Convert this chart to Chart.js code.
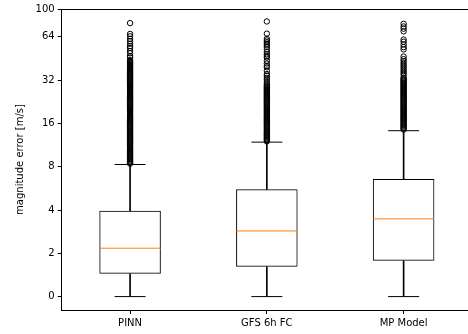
<!DOCTYPE html>
<html>
<head>
<meta charset="utf-8">
<script src="https://cdn.jsdelivr.net/npm/chart.js@4"></script>
<style>
  html, body { margin: 0; padding: 0; background: #fff; overflow: hidden; }
  #wrap { width: 468px; height: 334px; overflow: hidden; position: relative; }
  #chart { position: absolute; left: 0; top: 0; }
</style>
</head>
<body>
<div id="wrap"><canvas id="chart" width="480" height="334"></canvas></div>
<script>
// box statistics (m/s)
const models = ['PINN', 'GFS 6h FC', 'MP Model'];
const whiskLow = [0, 0, 0];
const q1 = [1.05, 1.38, 1.65];
const median = [2.17, 2.86, 3.47];
const q3 = [3.96, 5.57, 6.58];
const whiskHigh = [8.29, 11.86, 14.24];

// outliers (dense columns above the whiskers)
const fliersPINN = [8.4, 8.55, 8.7, 8.85, 9.0, 9.15, 9.3, 9.45, 9.6, 9.75, 9.9, 10.05, 10.2, 10.35, 10.5,
  10.65, 10.8, 11.0, 11.2, 11.4, 11.6, 11.8, 12.0, 12.2, 12.4, 12.6, 12.8, 13.0, 13.2, 13.4, 13.6, 13.8,
  14.0, 14.25, 14.5, 14.75, 15.0, 15.25, 15.5, 15.75, 16.0, 16.25, 16.5, 16.75, 17.0, 17.25, 17.5, 17.75,
  18.0, 18.3, 18.6, 18.9, 19.2, 19.5, 19.8, 20.1, 20.4, 20.7, 21.0, 21.35, 21.7, 22.05, 22.4, 22.75, 23.1,
  23.45, 23.8, 24.15, 24.5, 24.9, 25.3, 25.7, 26.1, 26.5, 26.9, 27.3, 27.7, 28.15, 28.6, 29.05, 29.5, 29.95,
  30.4, 30.85, 31.3, 31.8, 32.3, 32.8, 33.3, 33.85, 34.4, 34.95, 35.5, 36.05, 36.6, 37.2, 37.8, 38.4, 39.0,
  39.6, 40.2, 40.85, 41.5, 42.15, 42.8, 43.45, 44.1,
  46.0, 47.1, 49.2, 51.0, 53.6, 55.2, 57.3, 59.7, 62.0, 64.6, 67.1, 79.8];
const fliersGFS = [12.0, 12.2, 12.4, 12.6, 12.8, 13.0, 13.2, 13.4, 13.6, 13.8, 14.0, 14.25, 14.5, 14.75,
  15.0, 15.25, 15.5, 15.75, 16.0, 16.25, 16.5, 16.75, 17.0, 17.25, 17.5, 17.75, 18.0, 18.3, 18.6, 18.9,
  19.2, 19.5, 19.8, 20.1, 20.4, 20.7, 21.0, 21.35, 21.7, 22.05, 22.4, 22.75, 23.1, 23.45, 23.8, 24.15,
  24.5, 24.9, 25.3, 25.7, 26.1, 26.5, 26.9, 27.3, 27.7, 28.15, 28.6, 29.05, 29.5,
  30.2, 31.1, 32.2, 33.2, 34.3, 35.3, 37.2, 39.3, 40.3, 41.8, 43.6, 46.0, 47.1, 48.4, 50.2, 52.4, 54.3,
  55.8, 57.3, 58.8, 60.4, 62.0, 67.4, 81.9];
const fliersMP = [14.5, 14.75, 15.0, 15.25, 15.5, 15.75, 16.0, 16.25, 16.5, 16.75, 17.0, 17.25, 17.5,
  17.75, 18.0, 18.3, 18.6, 18.9, 19.2, 19.5, 19.8, 20.1, 20.4, 20.7, 21.0, 21.35, 21.7, 22.05, 22.4, 22.75,
  23.1, 23.45, 23.8, 24.15, 24.5, 24.9, 25.3, 25.7, 26.1, 26.5, 26.9, 27.3, 27.7, 28.15, 28.6, 29.05, 29.5,
  29.95, 30.4, 30.85, 31.3, 31.8, 32.3, 32.8, 33.3,
  34.8, 35.9, 37.0, 38.2, 39.5, 40.7, 42.0, 43.4, 44.8, 46.7, 52.4, 54.3, 56.7, 59.2, 61.3, 69.9, 73.0,
  75.6, 78.9];

const yTicks = [0, 2, 4, 8, 16, 32, 64, 100];
const yMin = -0.62, yMax = 100;

// symlog, base 2, linear below 2
const symlog = v => v >= 2 ? Math.log2(v) : v / 2;

const font = { family: 'DejaVu Sans', size: 10 };
const fliers = [fliersPINN, fliersGFS, fliersMP];
const flierPts = [];
fliers.forEach((arr, i) => arr.forEach(v => flierPts.push({ x: models[i], y: symlog(v) })));

const ctx = document.getElementById('chart').getContext('2d');
const chart = new Chart(ctx, {
  type: 'bar',
  data: {
    labels: models,
    datasets: [
      { type: 'line', data: flierPts, showLine: false, pointStyle: 'circle', pointRadius: 2.7,
        pointBorderWidth: 1, pointBorderColor: '#000', pointBackgroundColor: 'rgba(0,0,0,0)' },
      { type: 'line', data: median.map(symlog), showLine: false, pointStyle: 'line', pointRadius: 30.5,
        pointBorderWidth: 1, pointBorderColor: '#ff7f0e' },
      { type: 'line', data: whiskHigh.map(symlog), showLine: false, pointStyle: 'line', pointRadius: 15.5,
        pointBorderWidth: 1, pointBorderColor: '#000' },
      { type: 'line', data: whiskLow.map(symlog), showLine: false, pointStyle: 'line', pointRadius: 15.5,
        pointBorderWidth: 1, pointBorderColor: '#000' },
      { data: models.map((m, i) => [symlog(q1[i]), symlog(q3[i])]), backgroundColor: 'rgba(0,0,0,0)',
        borderColor: '#000', borderWidth: 1, borderSkipped: false, barPercentage: 0.45,
        categoryPercentage: 1, grouped: false },
      { data: models.map((m, i) => [symlog(q3[i]), symlog(whiskHigh[i])]), backgroundColor: '#000',
        borderWidth: 0, barThickness: 1, grouped: false },
      { data: models.map((m, i) => [symlog(whiskLow[i]), symlog(q1[i])]), backgroundColor: '#000',
        borderWidth: 0, barThickness: 1, grouped: false }
    ]
  },
  options: {
    responsive: false,
    animation: false,
    devicePixelRatio: 1,
    layout: { padding: { right: 8 }, autoPadding: false },
    plugins: { legend: { display: false }, tooltip: { enabled: false } },
    scales: {
      x: {
        grid: { display: true, drawOnChartArea: false, offset: false, color: '#000', tickLength: 4 },
        border: { display: true, color: '#000', width: 1 },
        ticks: { color: '#000', font: font, padding: 3, maxRotation: 0, autoSkip: false },
        afterFit: s => { s.height = 24; }
      },
      xTop: {
        type: 'category', position: 'top', labels: models,
        grid: { display: false }, ticks: { display: false },
        border: { display: true, color: '#000', width: 1 },
        afterFit: s => { s.height = 4.7; }
      },
      y: {
        min: symlog(yMin), max: symlog(yMax),
        grid: { display: true, drawOnChartArea: false, color: '#000', tickLength: 4 },
        border: { display: true, color: '#000', width: 1 },
        ticks: { color: '#000', font: font, padding: 3, autoSkip: false, callback: (v, i) => yTicks[i] },
        afterBuildTicks: s => { s.ticks = yTicks.map(v => ({ value: symlog(v) })); },
        afterFit: s => { s.width = 61.7; },
        title: { display: true, text: 'magnitude error [m/s]', color: '#000', font: font,
          padding: { top: 14, bottom: 0 } }
      }
    }
  }
});
</script>
</body>
</html>
